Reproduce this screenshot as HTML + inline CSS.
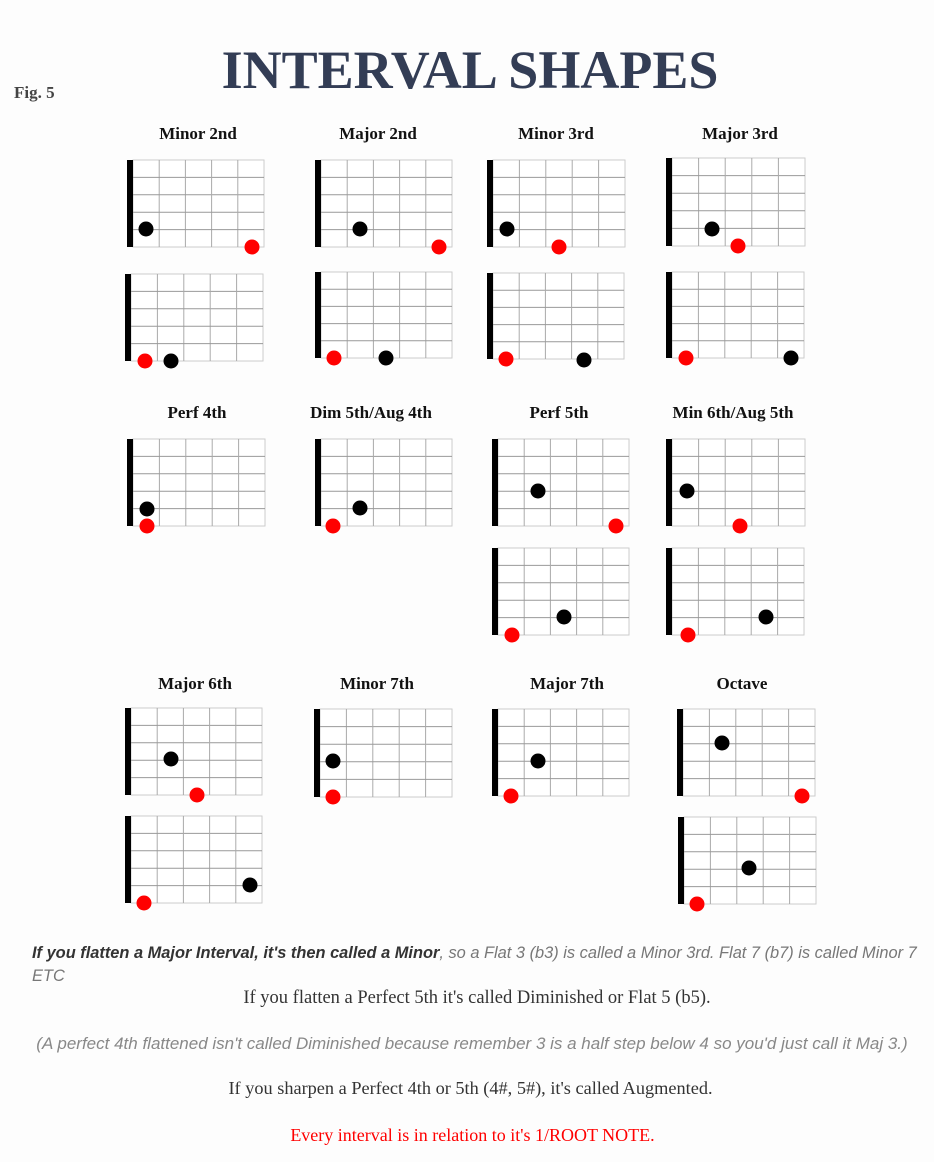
<!DOCTYPE html>
<html><head><meta charset="utf-8">
<style>
html,body{margin:0;padding:0;background:#fdfdfd;}
body{width:934px;height:1162px;position:relative;overflow:hidden;font-family:"Liberation Serif",serif;}
svg{position:absolute;left:0;top:0;}
.t{position:absolute;font-family:"Liberation Sans",sans-serif;font-size:16px;white-space:nowrap;}
</style></head><body>
<svg id="s" width="934" height="1162" xmlns="http://www.w3.org/2000/svg">
<text x="14" y="98" font-family="Liberation Serif" font-size="17" fill="#444" font-weight="bold">Fig. 5</text>
<text x="470" y="88" text-anchor="middle" font-family="Liberation Serif" font-size="54" font-weight="bold" fill="#333d55">INTERVAL SHAPES</text>
</svg>
<div class="t" style="left:32px;top:944px;color:#777;font-style:italic;font-size:16.4px;"><b style="color:#333">If you flatten a Major Interval, it's then called a Minor</b>, so a Flat 3 (b3) is called a Minor 3rd. Flat 7 (b7) is called Minor 7</div>
<div class="t" style="left:32px;top:967px;color:#777;font-style:italic;font-size:16.4px;">ETC</div>
<div class="t" style="left:0;width:954px;text-align:center;top:988px;color:#333;font-family:'Liberation Serif',serif;font-size:18.5px;">If you flatten a Perfect 5th it's called Diminished or Flat 5 (b5).</div>
<div class="t" style="left:0;width:944px;text-align:center;top:1034px;color:#888;font-style:italic;font-size:17px;">(A perfect 4th flattened isn't called Diminished because remember 3 is a half step below 4 so you'd just call it Maj 3.)</div>
<div class="t" style="left:0;width:941px;text-align:center;top:1078px;color:#333;font-family:'Liberation Serif',serif;font-size:18.3px;">If you sharpen a Perfect 4th or 5th (4#, 5#), it's called Augmented.</div>
<div class="t" style="left:0;width:945px;text-align:center;top:1125px;color:#f00;font-family:'Liberation Serif',serif;font-size:18px;">Every interval is in relation to it's 1/ROOT NOTE.</div>
<script>
var s=document.getElementById('s'),h='';
var titles=[["Minor 2nd",198,133],["Major 2nd",378,133],["Minor 3rd",556,133],["Major 3rd",740,133],
["Perf 4th",197,412],["Dim 5th/Aug 4th",371,412],["Perf 5th",559,412],["Min 6th/Aug 5th",733,412],
["Major 6th",195,683],["Minor 7th",377,683],["Major 7th",567,683],["Octave",742,683]];
titles.forEach(function(t){h+='<text x="'+t[1]+'" y="'+(t[2]+6)+'" text-anchor="middle" font-family="Liberation Serif" font-weight="bold" font-size="17" fill="#111">'+t[0]+'</text>';});
var D=[
[127,160,264,247,[[146,229,0],[252,247,1]]],
[315,160,452,247,[[360,229,0],[439,247,1]]],
[487,160,625,247,[[507,229,0],[559,247,1]]],
[666,158,805,246,[[712,229,0],[738,246,1]]],
[125,274,263,361,[[145,361,1],[171,361,0]]],
[315,272,452,358,[[334,358,1],[386,358,0]]],
[487,273,624,359,[[506,359,1],[584,360,0]]],
[666,272,804,358,[[686,358,1],[791,358,0]]],
[127,439,265,526,[[147,509,0],[147,526,1]]],
[315,439,452,526,[[333,526,1],[360,508,0]]],
[492,439,629,526,[[538,491,0],[616,526,1]]],
[666,439,805,526,[[687,491,0],[740,526,1]]],
[492,548,629,635,[[512,635,1],[564,617,0]]],
[666,548,804,635,[[688,635,1],[766,617,0]]],
[125,708,262,795,[[171,759,0],[197,795,1]]],
[314,709,452,797,[[333,761,0],[333,797,1]]],
[492,709,629,796,[[511,796,1],[538,761,0]]],
[677,709,815,796,[[722,743,0],[802,796,1]]],
[125,816,262,903,[[144,903,1],[250,885,0]]],
[678,817,816,904,[[749,868,0],[697,904,1]]]];
D.forEach(function(d){
 var x0=d[0]+6,y0=d[1],x1=d[2],y1=d[3],w=(x1-x0)/5,hh=(y1-y0)/5;
 h+='<rect x="'+x0+'" y="'+y0+'" width="'+(x1-x0)+'" height="'+(y1-y0)+'" fill="#fff" stroke="#ccc" stroke-width="1"/>';
 for(var i=1;i<5;i++){h+='<line x1="'+(x0+w*i)+'" y1="'+y0+'" x2="'+(x0+w*i)+'" y2="'+y1+'" stroke="#aaa" stroke-width="1"/>';
  h+='<line x1="'+x0+'" y1="'+(y0+hh*i)+'" x2="'+x1+'" y2="'+(y0+hh*i)+'" stroke="#999" stroke-width="1"/>';}
 h+='<rect x="'+d[0]+'" y="'+y0+'" width="6" height="'+(y1-y0)+'" fill="#000"/>';
 d[4].forEach(function(p){h+='<circle cx="'+p[0]+'" cy="'+p[1]+'" r="7.5" fill="'+(p[2]?'#f00':'#000')+'"/>';});
});
s.insertAdjacentHTML('beforeend',h);
</script>
</body></html>
